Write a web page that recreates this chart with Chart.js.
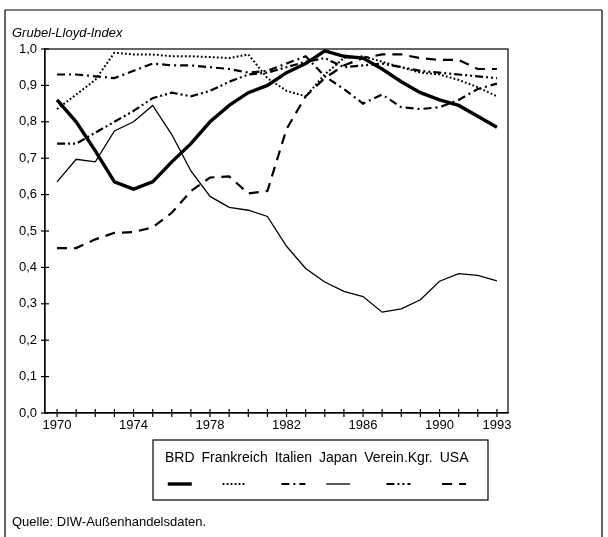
<!DOCTYPE html>
<html>
<head>
<meta charset="utf-8">
<script src="https://cdn.jsdelivr.net/npm/chart.js@4.4.0/dist/chart.umd.min.js"></script>
<style>
  body { margin: 0; background: #fff; }
  canvas { display: block; }
</style>
</head>
<body>
<canvas id="mycanvas" width="608" height="537"></canvas>
<script>
// data
var years = [1970, 1971, 1972, 1973, 1974, 1975, 1976, 1977, 1978, 1979, 1980, 1981,
             1982, 1983, 1984, 1985, 1986, 1987, 1988, 1989, 1990, 1991, 1992, 1993];
var labelYears = [1970, 1974, 1978, 1982, 1986, 1990, 1993];
var yTicks = [0, 0.1, 0.2, 0.3, 0.4, 0.5, 0.6, 0.7, 0.8, 0.9, 1.0];

var brd        = [0.86, 0.80, 0.72, 0.635, 0.615, 0.635, 0.69, 0.74, 0.80, 0.845, 0.88, 0.90,
                  0.935, 0.96, 0.995, 0.98, 0.975, 0.945, 0.91, 0.88, 0.86, 0.845, 0.815, 0.785];
var frankreich = [0.835, 0.875, 0.915, 0.99, 0.985, 0.985, 0.98, 0.98, 0.978, 0.975, 0.985, 0.92,
                  0.885, 0.87, 0.93, 0.975, 0.98, 0.965, 0.95, 0.935, 0.93, 0.915, 0.895, 0.87];
var italien    = [0.93, 0.93, 0.925, 0.92, 0.94, 0.96, 0.955, 0.955, 0.95, 0.945, 0.935, 0.94,
                  0.96, 0.98, 0.925, 0.89, 0.85, 0.875, 0.84, 0.835, 0.84, 0.86, 0.89, 0.905];
var japan      = [0.635, 0.697, 0.69, 0.775, 0.80, 0.845, 0.765, 0.665, 0.595, 0.565, 0.557, 0.54,
                  0.458, 0.397, 0.36, 0.334, 0.32, 0.277, 0.286, 0.311, 0.362, 0.383, 0.378, 0.363];
var vereinKgr  = [0.74, 0.74, 0.77, 0.80, 0.83, 0.865, 0.88, 0.87, 0.885, 0.91, 0.93, 0.935,
                  0.95, 0.965, 0.975, 0.95, 0.955, 0.96, 0.95, 0.94, 0.935, 0.93, 0.925, 0.92];
var usa        = [0.453, 0.453, 0.477, 0.495, 0.497, 0.51, 0.55, 0.61, 0.647, 0.65, 0.603, 0.61,
                  0.78, 0.87, 0.92, 0.955, 0.975, 0.985, 0.985, 0.975, 0.97, 0.97, 0.945, 0.945];

function pts(arr) {
  return years.map(function(y, i) { return { x: y, y: arr[i] }; });
}

var FONT = '"Liberation Sans", Arial, sans-serif';

function line(ctx, x1, y1, x2, y2) {
  ctx.beginPath(); ctx.moveTo(x1, y1); ctx.lineTo(x2, y2); ctx.stroke();
}

// frame, title, cross ticks, legend and source note
var decor = {
  id: 'decor',
  beforeDraw: function(chart) {
    var ctx = chart.ctx;
    ctx.save();
    ctx.strokeStyle = '#000';
    ctx.lineWidth = 1.2;
    line(ctx, 5, 10, 602, 10);
    line(ctx, 5, 10, 5, 537);
    line(ctx, 602, 10, 602, 537);
    ctx.fillStyle = '#000';
    ctx.font = 'italic 13px ' + FONT;
    ctx.textBaseline = 'middle';
    ctx.fillText('Grubel-Lloyd-Index', 12, 33);
    ctx.font = '13px ' + FONT;
    ctx.fillText('Quelle: DIW-Au\u00dfenhandelsdaten.', 12, 522);
    ctx.restore();
  },
  afterDatasetsDraw: function(chart) {
    var ctx = chart.ctx, a = chart.chartArea;
    var xs = chart.scales.x, ys = chart.scales.y;
    ctx.save();
    ctx.strokeStyle = '#000';
    ctx.lineWidth = 1.2;
    ctx.strokeRect(a.left, a.top, a.right - a.left, a.bottom - a.top);
    years.forEach(function(y) {
      var px = xs.getPixelForValue(y);
      line(ctx, px, a.bottom - 4, px, a.bottom + 4);
    });
    yTicks.forEach(function(v) {
      var py = ys.getPixelForValue(v);
      line(ctx, a.left - 4, py, a.left + 4, py);
    });

    // legend: labels in one row, line samples underneath
    ctx.lineWidth = 1.2;
    ctx.strokeRect(153, 440, 335, 60);
    ctx.font = '14px ' + FONT;
    ctx.textAlign = 'left';
    ctx.textBaseline = 'middle';
    ctx.fillStyle = '#000';
    var x = 165, gap = 7;
    chart.data.datasets.forEach(function(ds) {
      var w = ctx.measureText(ds.label).width;
      ctx.fillText(ds.label, x, 458);
      var cx = x + w / 2;
      ctx.save();
      ctx.lineWidth = ds.borderWidth;
      ctx.setLineDash(ds.borderDash || []);
      line(ctx, cx - 12, 484, cx + 12, 484);
      ctx.restore();
      x += w + gap;
    });
    ctx.restore();
  }
};

function ds(label, data, width, dash) {
  return {
    label: label,
    data: pts(data),
    borderColor: '#000',
    backgroundColor: '#000',
    borderWidth: width,
    borderDash: dash,
    pointRadius: 0,
    tension: 0,
    fill: false
  };
}

var chartdata = {
  datasets: [
    ds('BRD', brd, 3.4, []),
    ds('Frankreich', frankreich, 2, [1.8, 2.2]),
    ds('Italien', italien, 2.2, [8, 4, 2, 4]),
    ds('Japan', japan, 1.3, []),
    ds('Verein.Kgr.', vereinKgr, 2.2, [8, 3, 2, 3, 2, 3]),
    ds('USA', usa, 2.2, [10, 7])
  ]
};

var ctx = document.getElementById('mycanvas');
var lineGraph = new Chart(ctx, {
  type: 'line',
  data: chartdata,
  plugins: [decor],
  options: {
    responsive: false,
    animation: false,
    layout: { padding: { top: 49, right: 100, bottom: 104, left: 0 } },
    plugins: { legend: { display: false }, tooltip: { enabled: false } },
    scales: {
      x: {
        type: 'linear',
        min: 1969.37,
        max: 1993.58,
        afterFit: function(s) { s.height = 20; },
        afterBuildTicks: function(s) {
          s.ticks = years.map(function(v) { return { value: v }; });
        },
        grid: { display: false, drawTicks: false },
        border: { display: true, color: '#000', width: 1.2 },
        ticks: {
          autoSkip: false,
          maxRotation: 0,
          padding: 5,
          color: '#000',
          font: { family: FONT, size: 13 },
          callback: function(v) { return labelYears.indexOf(v) >= 0 ? String(v) : ''; }
        }
      },
      y: {
        min: 0,
        max: 1,
        afterFit: function(s) { s.width = 45; },
        afterBuildTicks: function(s) {
          s.ticks = yTicks.map(function(v) { return { value: v }; });
        },
        grid: { display: false, drawTicks: false },
        border: { display: true, color: '#000', width: 1.2 },
        ticks: {
          padding: 8,
          color: '#000',
          font: { family: FONT, size: 13 },
          callback: function(v) { return v.toFixed(1).replace('.', ','); }
        }
      }
    }
  }
});
</script>
</body>
</html>
